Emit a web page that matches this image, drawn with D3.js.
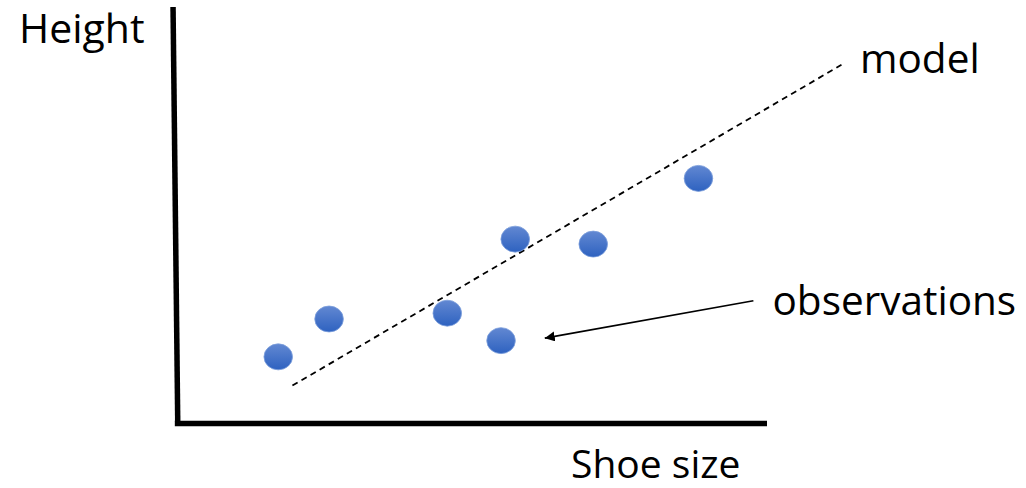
<!DOCTYPE html>
<html>
<head>
<meta charset="utf-8">
<script src="https://cdn.jsdelivr.net/npm/d3@7"></script>
<style>
  html, body { margin: 0; padding: 0; background: #fff; }
  svg { display: block; }
  text { font-family: "Open Sans", sans-serif; fill: #000; }
</style>
</head>
<body>
<svg id="chart" width="1026" height="488"></svg>
<script>
// ---- data (abstract units, 0..100 on each axis) ----
const shoeSize = [17.3, 25.9, 45.9, 55.0, 57.4, 70.6, 88.4];
const height   = [15.9, 25.0, 26.4, 19.8, 44.2, 43.0, 58.8];
const modelX = [19.7, 112.6];
const modelY = [9.0, 86.1];
const arrowFrom = [97.7, 29.4];
const arrowTo   = [62.4, 20.4];
const labels = { y: "Height", x: "Shoe size", model: "model", obs: "observations" };

const svg = d3.select("#chart");
const x = d3.scaleLinear().domain([0, 100]).range([176, 767]);
const y = d3.scaleLinear().domain([0, 100]).range([423, 7]);

const defs = svg.append("defs");
const grad = defs.append("linearGradient").attr("id", "dotGrad")
  .attr("x1", 0).attr("y1", 0).attr("x2", 0).attr("y2", 1);
grad.append("stop").attr("offset", "0%").attr("stop-color", "#6288d2");
grad.append("stop").attr("offset", "100%").attr("stop-color", "#2e62c0");

defs.append("marker").attr("id", "arrowHead")
  .attr("viewBox", "0 0 10 10").attr("refX", 10).attr("refY", 5)
  .attr("markerWidth", 10).attr("markerHeight", 10)
  .attr("markerUnits", "userSpaceOnUse")
  .attr("orient", "auto")
  .append("path").attr("d", "M0,0 L10,5 L0,10 Z").attr("fill", "#000");

// axes
svg.append("line")
  .attr("x1", x(-0.5)).attr("y1", y(100))
  .attr("x2", x(0.3)).attr("y2", y(-0.7))
  .attr("stroke", "#000").attr("stroke-width", 5.5);
svg.append("line")
  .attr("x1", x(-0.2)).attr("y1", y(-0.1))
  .attr("x2", x(100)).attr("y2", y(-0.1))
  .attr("stroke", "#000").attr("stroke-width", 5.5);

// model line
svg.append("line")
  .attr("x1", x(modelX[0])).attr("y1", y(modelY[0]))
  .attr("x2", x(modelX[1])).attr("y2", y(modelY[1]))
  .attr("stroke", "#000").attr("stroke-width", 1.8)
  .attr("stroke-dasharray", "6,4.5");

// observations
svg.selectAll("ellipse.obs").data(shoeSize.map((s, i) => [s, height[i]]))
  .enter().append("ellipse").attr("class", "obs")
  .attr("cx", d => x(d[0])).attr("cy", d => y(d[1]))
  .attr("rx", 14.3).attr("ry", 13)
  .attr("fill", "url(#dotGrad)")
  .attr("stroke", "#7d9fdc").attr("stroke-width", 0.8);

// arrow
svg.append("line")
  .attr("x1", x(arrowFrom[0])).attr("y1", y(arrowFrom[1]))
  .attr("x2", x(arrowTo[0])).attr("y2", y(arrowTo[1]))
  .attr("stroke", "#000").attr("stroke-width", 1.6)
  .attr("marker-end", "url(#arrowHead)");

// labels
svg.append("text").attr("x", 19).attr("y", 42.7).attr("font-size", 41).text(labels.y);
svg.append("text").attr("x", 571).attr("y", 477.5).attr("font-size", 39).text(labels.x);
svg.append("text").attr("x", 860).attr("y", 72.7).attr("font-size", 40.5).text(labels.model);
svg.append("text").attr("x", 772.5).attr("y", 315).attr("font-size", 40.5).text(labels.obs);
</script>
</body>
</html>
